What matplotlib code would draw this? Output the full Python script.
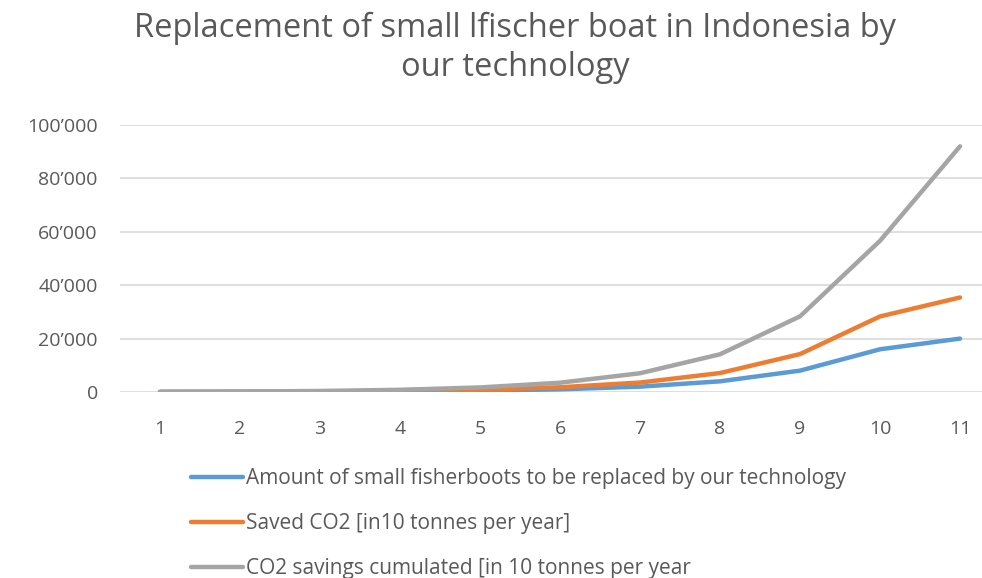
import matplotlib
matplotlib.use("Agg")
import matplotlib.pyplot as plt
from matplotlib.ticker import FuncFormatter, MultipleLocator

years = [1, 2, 3, 4, 5, 6, 7, 8, 9, 10, 11]
boats = [30, 60, 125, 250, 500, 1000, 2000, 4000, 8000, 16000, 20000]
saved_co2 = [55, 110, 220, 440, 885, 1770, 3540, 7100, 14200, 28300, 35400]
cumulated = [55, 165, 385, 825, 1710, 3480, 7020, 14120, 28320, 56620, 92020]

labels = ["Amount of small fisherboots to be replaced by our technology",
          "Saved CO2 [in10 tonnes per year]",
          "CO2 savings cumulated [in 10 tonnes per year"]
colors = ["#5B9BD5", "#ED7D31", "#A5A5A5"]
title = "Replacement of small lfischer boat in Indonesia by\nour technology"

plt.rcParams['font.family'] = ['Open Sans', 'DejaVu Sans']
txt = "#595959"

fig = plt.figure(figsize=(9.82, 5.78), dpi=100)
ax = fig.add_axes([120/982, 1-392/578, 880/982, 267/578])

for vals, c, lab in zip([boats, saved_co2, cumulated], colors, labels):
    ax.plot(years, vals, color=c, lw=3.2, label=lab, solid_capstyle='round', solid_joinstyle='round')

ax.set_xlim(0.5, 11.5)
ax.set_ylim(0, 100000)
ax.yaxis.set_major_locator(MultipleLocator(20000))
ax.yaxis.set_major_formatter(FuncFormatter(lambda v, p: f"{int(v):,}".replace(",", "\u2019")))
ax.set_xticks(years)
ax.grid(axis='y', color='#D9D9D9', lw=1.2)
ax.set_axisbelow(True)
for s in ax.spines.values():
    s.set_visible(False)
ax.tick_params(length=0, labelsize=14, colors=txt)
ax.tick_params(axis='y', pad=16)
ax.tick_params(axis='x', pad=20)

fig.text(515/982, 1-48/578, title, ha='center', va='center', fontsize=23.5, color=txt, linespacing=1.25)

leg = fig.legend(loc='upper left', bbox_to_anchor=(183/982, 1-460/578), frameon=False,
                 fontsize=15, labelcolor=txt, handlelength=2.5, handletextpad=0.1,
                 labelspacing=1.15, borderaxespad=0)

fig.savefig("out.png", dpi=100)
